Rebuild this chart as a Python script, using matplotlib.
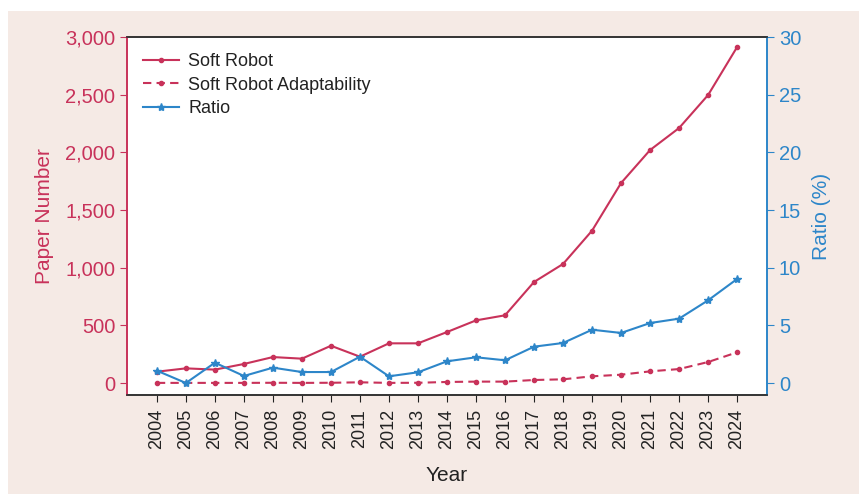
import matplotlib
matplotlib.use("Agg")
import matplotlib.pyplot as plt
from matplotlib.patches import Rectangle
from matplotlib.ticker import FuncFormatter

plt.rcParams['font.family'] = ['Liberation Sans', 'DejaVu Sans']

years = list(range(2004, 2025))
soft_robot = [98, 127, 116, 165, 225, 211, 323, 228, 344, 344, 442, 543, 587,
              876, 1032, 1321, 1734, 2020, 2211, 2497, 2913]
adaptability = [1, 1, 1, 1, 2, 1, 2, 6, 1, 2, 9, 12, 12,
                26, 32, 58, 72, 101, 121, 182, 266]
ratio = [1.07, 0.0, 1.76, 0.61, 1.33, 0.95, 0.95, 2.28, 0.58, 0.93, 1.88, 2.23, 1.97,
         3.15, 3.47, 4.62, 4.34, 5.2, 5.58, 7.17, 9.02]

RED = '#C8325A'
BLUE = '#2D86C9'
BG = '#F5EAE5'

fig = plt.figure(figsize=(8.59, 4.94), dpi=100)
fig.patch.set_facecolor('white')
fig.patches.append(Rectangle((8/859, 0), 1, 1 - 11/494, transform=fig.transFigure,
                             facecolor=BG, edgecolor='none', zorder=-10))
ax = fig.add_axes([127/859, 1 - 395/494, 640/859, 358/494])
ax.set_facecolor('white')
ax2 = ax.twinx()

l1, = ax.plot(years, soft_robot, color=RED, lw=1.5, marker='o', ms=3, label='Soft Robot')
l2, = ax.plot(years, adaptability, color=RED, lw=1.5, ls=(0, (4, 2.5)), marker='o', ms=3,
              label='Soft Robot Adaptability')
l3, = ax2.plot(years, ratio, color=BLUE, lw=1.5, marker='*', ms=6, label='Ratio')

ax.set_xlim(2002.97, 2025.03)
ax.set_ylim(-104, 3000)
ax2.set_ylim(-1.04, 30)
ax.set_yticks([0, 500, 1000, 1500, 2000, 2500, 3000])
ax.yaxis.set_major_formatter(FuncFormatter(lambda v, p: f'{int(v):,}'))
ax2.set_yticks([0, 5, 10, 15, 20, 25, 30])
ax.set_xticks(years)
ax.set_xticklabels([str(y) for y in years], rotation=90, fontsize=13, color='#222222')

ax.tick_params(axis='y', colors=RED, labelsize=14.5, length=5, direction='out')
ax.tick_params(axis='x', colors='#222222', length=5, direction='out', pad=5)
ax2.tick_params(axis='y', colors=BLUE, labelsize=14.5, length=5, direction='out')

for a in (ax, ax2):
    a.spines['top'].set_color('#333333')
    a.spines['bottom'].set_color('#333333')
    a.spines['left'].set_color(RED)
    a.spines['right'].set_color(BLUE)
    for s in a.spines.values():
        s.set_linewidth(1.2)

ax.set_ylabel('Paper Number', color=RED, fontsize=15, labelpad=8)
ax2.set_ylabel('Ratio (%)', color=BLUE, fontsize=15, labelpad=8)
ax.set_xlabel('Year', color='#222222', fontsize=15, labelpad=12)

ax.legend(handles=[l1, l2, l3], loc='upper left', frameon=False, fontsize=13,
          handlelength=2.0, handletextpad=0.5, labelspacing=0.35, borderaxespad=0.5,
          labelcolor='#222222')

fig.savefig('out.png', dpi=100, facecolor=fig.get_facecolor())
